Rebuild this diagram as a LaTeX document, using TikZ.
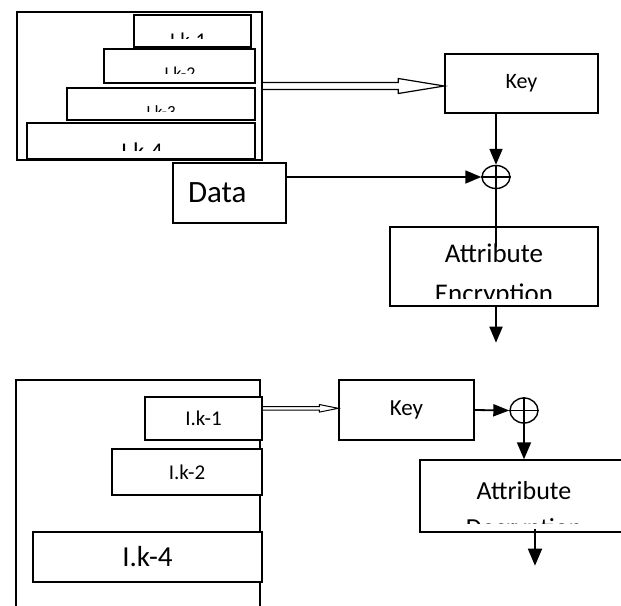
\documentclass[tikz,border=0pt]{standalone}
\usepackage{fontspec}
\setmainfont{Carlito}
\usetikzlibrary{arrows.meta,calc,shapes.geometric}
\begin{document}
\begin{tikzpicture}[x=1pt,y=-1pt,
  box/.style={draw, line width=1.4pt, fill=white, inner sep=0pt, rectangle},
  lbl/.style={inner sep=0pt, text=black},
  conn/.style={line width=1.8pt, -{Triangle[length=16pt,width=13pt]}},
  plain/.style={line width=1.8pt},
  xorc/.style={draw, ellipse, line width=1.4pt, inner sep=0pt, fill=white},
  plus/.style={line width=1.2pt},
  hollow/.style={line width=1.2pt, line join=miter},
]
\useasboundingbox (0,0) rectangle (621,605);
\clip (0,0) rectangle (621,605);

% ================= TOP =================
\node[box, minimum width=245pt, minimum height=148pt] (s1) at (139.5,86) {};

\node[box, minimum width=117pt, minimum height=32pt] (t1) at (192.5,31) {};
\begin{scope}
  \clip ($(t1.north west)+(1,1)$) rectangle ($(t1.south east)+(-1,-9)$);
  \node[lbl, font=\fontsize{21}{25}\selectfont, anchor=base] (t1l) at (188,47) {I.k-1};
\end{scope}
\node[box, minimum width=151pt, minimum height=34pt] (t2) at (179.5,66) {};
\begin{scope}
  \clip ($(t2.north west)+(1,1)$) rectangle ($(t2.south east)+(-1,-10)$);
  \node[lbl, font=\fontsize{18}{22}\selectfont, anchor=base] (t2l) at (180,79.5) {I.k-2};
\end{scope}
\node[box, minimum width=188pt, minimum height=32pt] (t3) at (161,104) {};
\begin{scope}
  \clip ($(t3.north west)+(1,1)$) rectangle ($(t3.south east)+(-1,-9)$);
  \node[lbl, font=\fontsize{17}{20}\selectfont, anchor=base] (t3l) at (161,117.5) {I.k-3};
\end{scope}
\node[box, minimum width=228pt, minimum height=36pt] (t4) at (141,141) {};
\begin{scope}
  \clip ($(t4.north west)+(1,1)$) rectangle ($(t4.south east)+(-1,-9.5)$);
  \node[lbl, font=\fontsize{24}{29}\selectfont, anchor=base] (t4l) at (142,159) {I.k-4};
\end{scope}

\node[box, minimum width=153pt, minimum height=59pt, font=\fontsize{22}{26}\selectfont] (k1) at (521.5,83.5) {Key};
\node[box, minimum width=113pt, minimum height=60pt, text width=113pt, align=left,
      font=\fontsize{31}{36}\selectfont] (d1) at (229.5,193) {\hspace*{15pt}Data};
\node[xorc, minimum width=28pt, minimum height=23pt] (x1) at (496,177) {};
\draw[plus] (x1.north) -- (x1.south) (x1.west) -- (x1.east);

\node[box, minimum width=208pt, minimum height=79pt] (e1) at (494,266.5) {};
\begin{scope}
  \clip ($(e1.north west)+(1,1)$) rectangle ($(e1.south east)+(-1,-8)$);
  \node[lbl, font=\fontsize{27}{40}\selectfont, align=center, anchor=north] (e1l) at (494,244) {Attribute\\Encryption};
\end{scope}

% hollow double arrow (top)
\coordinate (T1) at (k1.west |- s1.east);
\draw[hollow] ($(s1.east)+(0,-3.5)$) -- ($(T1)+(-46,-3.5)$) -- ($(T1)+(-46,-7.5)$) -- (T1)
  -- ($(T1)+(-46,7.5)$) -- ($(T1)+(-46,3.5)$) -- ($(s1.east)+(0,3.5)$);

\draw[conn] (x1.north |- k1.south) -- (x1.north);
\draw[conn] (d1.east |- x1.west) -- (x1.west);
\coordinate (e1in) at ($(x1.south |- e1.north)+(0,21)$);
\draw[plain] (x1.south) -- (e1in);
\coordinate (o1) at ($(x1.south |- e1.south)+(0,36)$);
\draw[conn] (x1.south |- e1.south) -- (o1);

% ================= BOTTOM =================
\node[box, minimum width=244pt, minimum height=240pt] (s2) at (138,500) {};

\node[box, minimum width=117pt, minimum height=43pt, font=\fontsize{21}{25}\selectfont] (b1) at (203.5,418.5) {\raisebox{-2.5pt}{I.k-1}};
\node[box, minimum width=150pt, minimum height=46pt, font=\fontsize{21}{25}\selectfont] (b2) at (187,472) {I.k-2};
\node[box, minimum width=229pt, minimum height=50pt, font=\fontsize{29}{34}\selectfont] (b4) at (147.5,557) {\raisebox{-4pt}{I.k-4}};

\node[box, minimum width=135pt, minimum height=60pt, font=\fontsize{23}{27}\selectfont] (k2) at (406.5,410) {Key};
\node[xorc, minimum width=28pt, minimum height=25pt] (x2) at (524,410.5) {};
\draw[plus] (x2.north) -- (x2.south) (x2.west) -- (x2.east);

\node[box, minimum width=208pt, minimum height=72pt] (dec) at (524,496) {};
\begin{scope}
  \clip ($(dec.north west)+(1,1)$) rectangle ($(dec.south east)+(-1,-9)$);
  \node[lbl, font=\fontsize{26}{37}\selectfont, align=center, anchor=north] (decl) at (524,481) {Attribute\\Decryption};
\end{scope}

% hollow double arrow (bottom)
\coordinate (h2) at ($(b1.north east)+(0,12)$);
\coordinate (T2) at (k2.west |- h2);
\draw[line width=1.0pt, line join=miter] ($(h2)+(0,-1.7)$) -- ($(T2)+(-19,-1.7)$) -- ($(T2)+(-19,-3.8)$) -- (T2)
  -- ($(T2)+(-19,3.8)$) -- ($(T2)+(-19,1.7)$) -- ($(h2)+(0,1.7)$);

\draw[line width=1.8pt, -{Triangle[length=16pt,width=12pt]}] (k2.east) -- (x2.west);
\draw[line width=1.8pt, -{Triangle[length=17pt,width=14pt]}] (x2.south) -- (x2.south |- dec.north);
\coordinate (o2s) at ($(dec.south)+(11,-4)$);
\coordinate (o2) at ($(dec.south)+(11,33)$);
\draw[line width=1.8pt, -{Triangle[length=17pt,width=14pt]}] (o2s) -- (o2);
\end{tikzpicture}
\end{document}
